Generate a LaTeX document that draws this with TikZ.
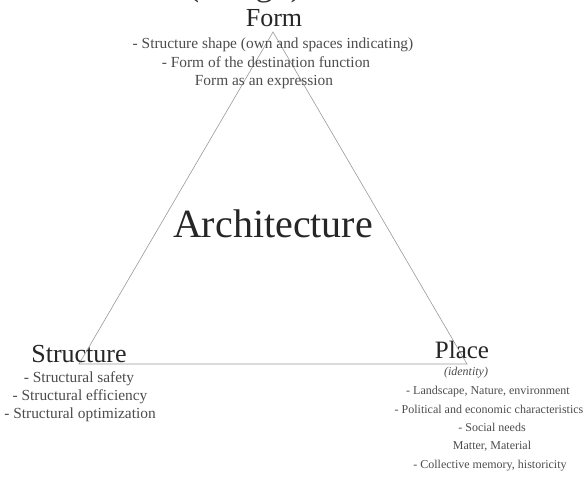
\documentclass[tikz,border=0pt]{standalone}
\usepackage{fontspec}
\setmainfont{Liberation Serif}
\begin{document}
\begin{tikzpicture}[x=1pt,y=-1pt,
  edge/.style={draw=black!40,line width=0.6pt},
  title/.style={anchor=base,inner sep=0pt,text=black!85,font=\fontsize{26}{26}\selectfont},
  sub/.style={anchor=base,inner sep=0pt,text=black!70,font=\fontsize{15.4}{15.4}\selectfont},
  subs/.style={anchor=base,inner sep=0pt,text=black!70,font=\fontsize{12}{12}\selectfont},
  big/.style={anchor=base,inner sep=0pt,text=black!85,font=\fontsize{40}{40}\selectfont}]
\useasboundingbox (0,0) rectangle (586,479);
\clip (0,0) rectangle (586,479);
% triangle
\coordinate (F) at (273,32);
\coordinate (S) at (79,364);
\coordinate (P) at (467,364);
\draw[edge] (F) -- (S) -- (P) -- cycle;
% clipped heading
\node[anchor=base,inner sep=0pt,text=black!80,font=\fontsize{35}{35}\selectfont] (head) at (245,-5) {(design)};
% Form
\node[title] (form) at (274,26) {Form};
\node[sub] (f1) at (273,48) {- Structure shape (own and spaces indicating)};
\node[sub] (f2) at (266,67) {- Form of the destination function};
\node[sub] (f3) at (264,85) {Form as an expression};
% Architecture
\node[big] (arch) at (273,237) {Architecture};
% Structure
\node[title] (str) at (79,362) {Structure};
\node[sub] (s1) at (79,382) {- Structural safety};
\node[sub] (s2) at (80,400) {- Structural efficiency};
\node[sub] (s3) at (80,418) {- Structural optimization};
% Place
\node[title,font=\fontsize{25}{25}\selectfont] (pl) at (462,358) {Place};
\node[subs,font=\fontsize{12}{12}\itshape] (p0) at (466,375) {(identity)};
\node[subs] (p1) at (488,394) {- Landscape, Nature, environment};
\node[subs] (p2) at (489,413) {- Political and economic characteristics};
\node[subs] (p3) at (492,431) {- Social needs};
\node[subs] (p4) at (492,449) {Matter, Material};
\node[subs] (p5) at (490,468) {- Collective memory, historicity};
\end{tikzpicture}
\end{document}
